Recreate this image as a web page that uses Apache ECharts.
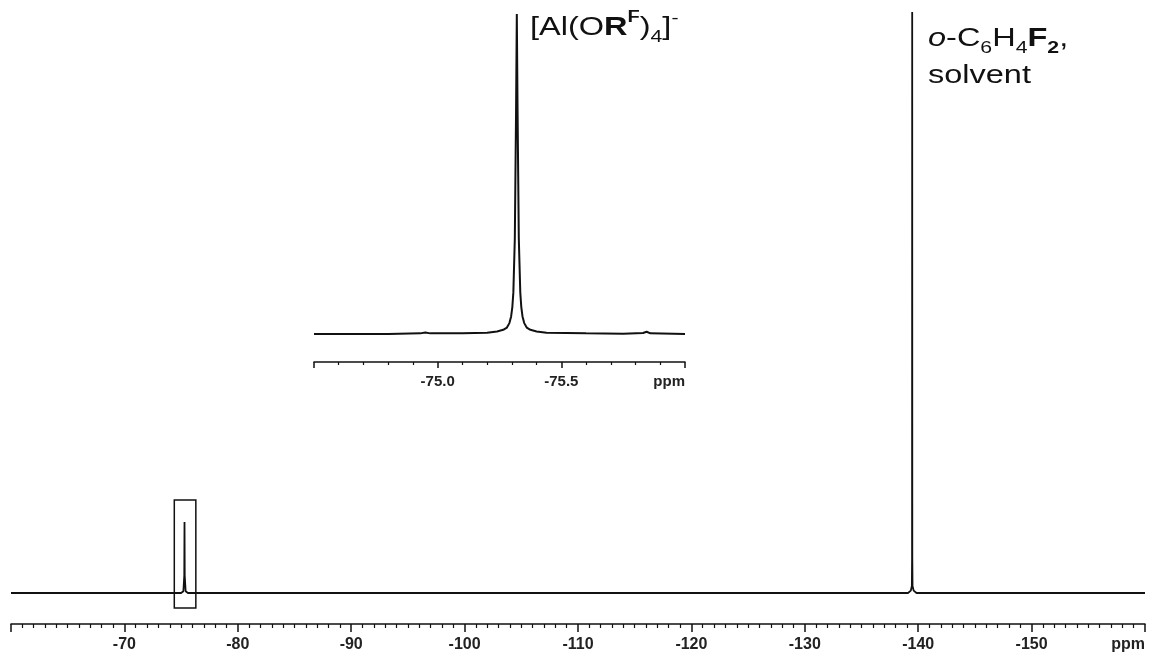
<!DOCTYPE html>
<html><head><meta charset="utf-8">
<script src="https://cdn.jsdelivr.net/npm/echarts@6/dist/echarts.min.js"></script>
<style>html,body{margin:0;padding:0;background:#fff}#c{width:1149px;height:657px}</style>
</head><body><div id="c"></div>
<script>
// Main 19F spectrum (ppm, relative intensity)
const mainShift = [-60, -75.0, -75.2, -75.28, -75.3, -75.32, -75.4, -75.6,
  -139.1, -139.35, -139.44, -139.46, -139.47, -139.48, -139.50, -139.6, -139.85, -160];
const mainIntensity = [0, 0, 0.3, 3, 12.2, 3, 0.3, 0,
  0, 0.4, 1.2, 6, 100, 6, 1.2, 0.4, 0, 0];
// Inset (expansion of the anion signal)
const insetShift = [-74.5, -74.8, -74.93, -74.95, -74.97, -75.1, -75.2, -75.24, -75.265, -75.28,
  -75.29, -75.297, -75.302, -75.306, -75.312, -75.317, -75.32, -75.323, -75.328, -75.334,
  -75.338, -75.343, -75.35, -75.36, -75.375, -75.4, -75.44, -75.6, -75.75, -75.83,
  -75.845, -75.86, -76.0];
const insetIntensity = [0, 0, 0.2, 0.5, 0.2, 0.2, 0.4, 0.8, 1.3, 2.0,
  3.4, 5.5, 8.5, 13, 30, 70, 100, 70, 30, 13,
  8.5, 5.5, 3.4, 2.0, 1.3, 0.8, 0.4, 0.2, 0.1, 0.3,
  0.7, 0.2, 0];
const mainTickLabels = [-70, -80, -90, -100, -110, -120, -130, -140, -150];
const insetTickLabels = [-75.0, -75.5];
const boxShift = [-74.4, -76.3];
const boxIntensity = [-2.6, 16];

const ink = '#111';
const lab = 'Liberation Sans';
const near = (a, b) => Math.abs(a - b) < 1e-6;

const chart = echarts.init(document.getElementById('c'), null, {renderer: 'canvas'});
chart.setOption({
  animation: false,
  backgroundColor: '#fff',
  grid: [
    {left: 11, right: 4, top: 12, bottom: 33},
    {left: 314, right: 464, top: 14, bottom: 295}
  ],
  xAxis: [
    {
      type: 'value', gridIndex: 0, inverse: true, min: -160, max: -60, interval: 10,
      axisLine: {onZero: false, lineStyle: {color: ink, width: 1.5}},
      axisTick: {length: 8, lineStyle: {color: ink, width: 1.5}},
      minorTick: {show: true, splitNumber: 10, length: 4, lineStyle: {color: ink, width: 1.2}},
      splitLine: {show: false},
      axisLabel: {
        showMinLabel: true, showMaxLabel: true, alignMinLabel: 'right',
        margin: 13, color: '#222', fontFamily: lab, fontWeight: 'bold', fontSize: 16,
        formatter: v => mainTickLabels.some(t => near(t, v)) ? String(v) : (near(v, -160) ? 'ppm' : '')
      }
    },
    {
      type: 'value', gridIndex: 1, inverse: true, min: -76, max: -74.5, interval: 0.5,
      axisLine: {onZero: false, lineStyle: {color: ink, width: 1.5}},
      axisTick: {length: 6, lineStyle: {color: ink, width: 1.5}},
      minorTick: {show: true, splitNumber: 5, length: 3, lineStyle: {color: ink, width: 1.2}},
      splitLine: {show: false},
      axisLabel: {
        showMinLabel: true, showMaxLabel: true, alignMinLabel: 'right',
        margin: 12, color: '#222', fontFamily: lab, fontWeight: 'bold', fontSize: 15,
        formatter: v => insetTickLabels.some(t => near(t, v)) ? v.toFixed(1) : (near(v, -76) ? 'ppm' : '')
      }
    }
  ],
  yAxis: [
    {type: 'value', gridIndex: 0, show: false, min: -5.34, max: 100, splitLine: {show: false}},
    {type: 'value', gridIndex: 1, show: false, min: -8.75, max: 100, splitLine: {show: false}}
  ],
  series: [
    {
      type: 'line', xAxisIndex: 0, yAxisIndex: 0, showSymbol: false, silent: true,
      data: mainShift.map((x, i) => [x, mainIntensity[i]]),
      lineStyle: {color: ink, width: 1.8},
      markArea: {
        silent: true,
        itemStyle: {color: 'rgba(0,0,0,0)', borderColor: ink, borderWidth: 1.5},
        data: [[{xAxis: boxShift[0], yAxis: boxIntensity[0]}, {xAxis: boxShift[1], yAxis: boxIntensity[1]}]]
      }
    },
    {
      type: 'line', xAxisIndex: 1, yAxisIndex: 1, showSymbol: false, silent: true,
      data: insetShift.map((x, i) => [x, insetIntensity[i]]),
      lineStyle: {color: ink, width: 2}
    }
  ],
  graphic: [
    {
      type: 'text', x: 530, y: 10, scaleX: 1.25, silent: true,
      style: {
        text: '[Al(O{b|R}{bsup|F}){sub|4}]{sup|-}',
        fontFamily: lab, fontSize: 26, lineHeight: 36, fill: ink, verticalAlign: 'top',
        rich: {
          b: {fontFamily: lab, fontSize: 26, fontWeight: 'bold', lineHeight: 36},
          bsup: {fontFamily: lab, fontSize: 16, fontWeight: 'bold', lineHeight: 25, verticalAlign: 'top'},
          sub: {fontFamily: lab, fontSize: 17, lineHeight: 19, verticalAlign: 'bottom'},
          sup: {fontFamily: lab, fontSize: 17, lineHeight: 23, verticalAlign: 'top'}
        }
      }
    },
    {
      type: 'text', x: 928, y: 20, scaleX: 1.25, silent: true,
      style: {
        text: '{i|o}-C{sub|6}H{sub|4}{b|F}{bsub|2},\nsolvent',
        fontFamily: lab, fontSize: 26, lineHeight: 37, fill: ink, verticalAlign: 'top',
        rich: {
          i: {fontFamily: lab, fontSize: 26, fontStyle: 'italic', lineHeight: 37},
          b: {fontFamily: lab, fontSize: 26, fontWeight: 'bold', lineHeight: 37},
          sub: {fontFamily: lab, fontSize: 17, lineHeight: 19, verticalAlign: 'bottom'},
          bsub: {fontFamily: lab, fontSize: 17, fontWeight: 'bold', lineHeight: 19, verticalAlign: 'bottom'}
        }
      }
    }
  ]
});
</script></body></html>
